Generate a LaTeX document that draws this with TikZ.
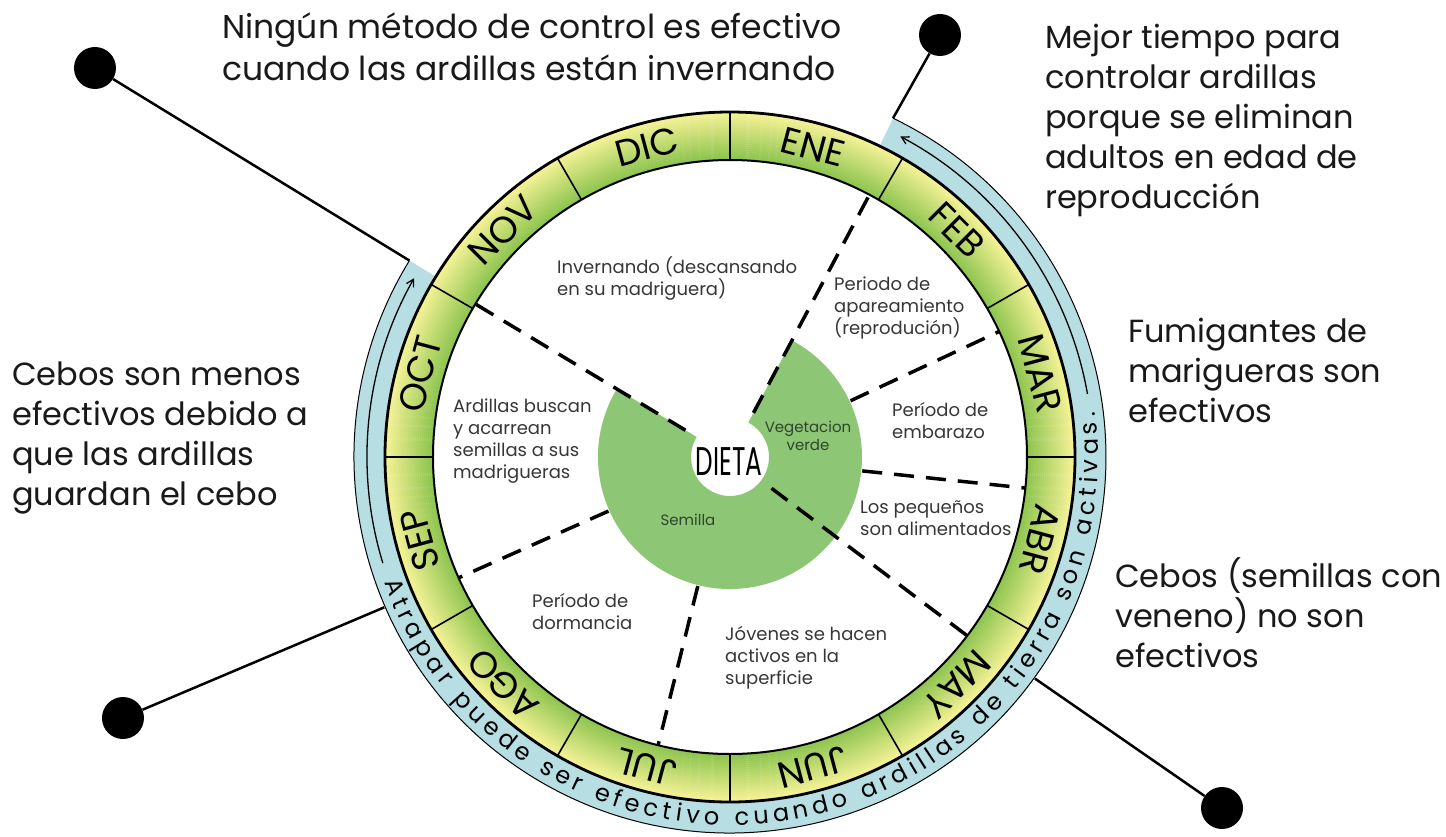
\documentclass[tikz,border=0pt]{standalone}
\usepackage{fontspec}
\setmainfont{Poppins}
\usepackage{tikz}
\usetikzlibrary{arrows.meta, decorations.text}
\usepackage{xcolor}

\definecolor{ringyellow}{RGB}{245,242,150}
\definecolor{ringgreen}{RGB}{140,196,78}
\definecolor{dietgreen}{RGB}{141,198,116}
\definecolor{bandblue}{RGB}{183,222,227}
\definecolor{txtgray}{RGB}{55,55,55}
\definecolor{txtgreen}{RGB}{45,70,45}

\begin{document}
\begin{tikzpicture}[x=1pt, y=1pt,
  monthlbl/.style={font=\fontsize{37}{37}\selectfont, inner sep=0pt},
  bigtxt/.style={font=\fontsize{32}{40}\selectfont, align=left, anchor=base west, inner sep=0pt, text=black!90},
  smalltxt/.style={font=\fontsize{18}{22}\selectfont, align=left, anchor=base west, inner sep=0pt, text=txtgray},
  divline/.style={line width=3.5pt, dash pattern=on 20pt off 12pt},
  leader/.style={line width=2.5pt},
  leaderdot/.style={circle, fill=black, minimum size=42pt, inner sep=0pt}]
\useasboundingbox (-730,-379) rectangle (716,457);
\fill[white] (-730,-379) rectangle (716,457);

% banda azul
\fill[bandblue] (148.5:345) arc[start angle=148.5, end angle=424.3, radius=345] -- (424.3:376) arc[start angle=424.3, end angle=148.5, radius=376] -- cycle;
\draw[line width=1pt] (148.5:376) arc[start angle=148.5, end angle=424.3, radius=376];
\path[decorate, decoration={text along path, text align={fit to path}, text={|\fontsize{24}{24}\selectfont|Atrapar puede ser efectivo cuando ardillas de tierra son activas.}}] (200:368) arc[start angle=200, end angle=367, radius=368];
\draw[line width=1.3pt, -{Straight Barb[length=7pt, width=8pt]}] (197:363) arc[start angle=197, end angle=150.5, radius=363];
\draw[line width=1.3pt, -{Straight Barb[length=7pt, width=8pt]}] (10:363) arc[start angle=10, end angle=62, radius=363];

% anillo de meses
\foreach \k in {0,...,23} {
  \pgfmathtruncatemacro{\mixp}{100-\k*100/23}
  \draw[line width=2.3pt, ringgreen!\mixp!ringyellow] (0,0) circle ({298+2*\k});
}
\draw[line width=2.8pt] (0,0) circle (345);
\draw[line width=2pt] (0,0) circle (297);
\foreach \a in {0,30,...,330} \draw[line width=1.6pt] (\a:297) -- (\a:345);
\foreach \m [count=\i] in {ENE,FEB,MAR,ABR,MAY,JUN,JUL,AGO,SEP,OCT,NOV,DIC}
  \node[monthlbl, rotate={15-30*\i}] (mes\i) at ({105-30*\i}:321) {\m};

% dieta
\fill[dietgreen] (149:132) arc[start angle=149, end angle=422, radius=132] -- (422:39) arc[start angle=422, end angle=149, radius=39] -- cycle;
\foreach \a/\r in {149/52, 62/50, 25/133, -6/133, -37/52, 204/133, 256/133}
  \draw[divline] (\a:\r) -- (\a:297);
\node[font=\fontsize{40}{40}\selectfont, xscale=0.62, inner sep=0pt] (dieta) at (-1,-5) {DIETA};
\node[font=\fontsize{15}{18}\selectfont, align=center, anchor=base, inner sep=0pt, text=txtgreen] (veg) at (78,7) {Vegetacion\\verde};
\node[font=\fontsize{15}{18}\selectfont, anchor=base, inner sep=0pt, text=txtgreen] (sem) at (-42,-68) {Semilla};

% etapas (ancla en la ultima linea)
\node[smalltxt] (inv) at (-173,162) {Invernando (descansando\\en su madriguera)};
\node[smalltxt] (apar) at (104,123) {Periodo de\\apareamiento\\(reprodución)};
\node[smalltxt] (emb) at (162,19) {Período de\\embarazo};
\node[smalltxt] (peq) at (130,-78) {Los pequeños\\son alimentados};
\node[smalltxt] (jov) at (-5,-227) {Jóvenes se hacen\\activos en la\\superficie};
\node[smalltxt] (dorm) at (-198,-172) {Período de\\dormancia};
\node[smalltxt] (ard) at (-277,-21) {Ardillas buscan\\y acarrean\\semillas a sus\\madrigueras};

% notas de control
\node[bigtxt, font=\fontsize{33}{42}\selectfont] (ninguno) at (-508,376) {Ningún método de control es efectivo\\cuando las ardillas están invernando};
\node[bigtxt] (mejor) at (315,248) {Mejor tiempo para\\controlar ardillas\\porque se eliminan\\adultos en edad de\\reproducción};
\node[bigtxt] (fumig) at (398,35) {Fumigantes de\\marigueras son\\efectivos};
\node[bigtxt] (cebosR) at (385,-210) {Cebos (semillas con\\veneno) no son\\efectivos};
\node[bigtxt] (cebosL) at (-718,-48) {Cebos son menos\\efectivos debido a\\que las ardillas\\guardan el cebo};

% lineas guia
\coordinate (bandTL) at (148.5:376);
\coordinate (bandTR) at (64.3:376);
\coordinate (bandBL) at (203.5:377);
\coordinate (bandBR) at (-36:377);
\node[leaderdot] (dotTL) at (-635,389) {};
\node[leaderdot] (dotTR) at (210,422) {};
\node[leaderdot] (dotBL) at (-607,-261) {};
\node[leaderdot] (dotBR) at (492,-351) {};
\draw[leader] (bandTL) -- (dotTL);
\draw[leader] (bandTR) -- (dotTR);
\draw[leader] (bandBL) -- (dotBL);
\draw[leader] (bandBR) -- (dotBR);
\end{tikzpicture}
\end{document}
